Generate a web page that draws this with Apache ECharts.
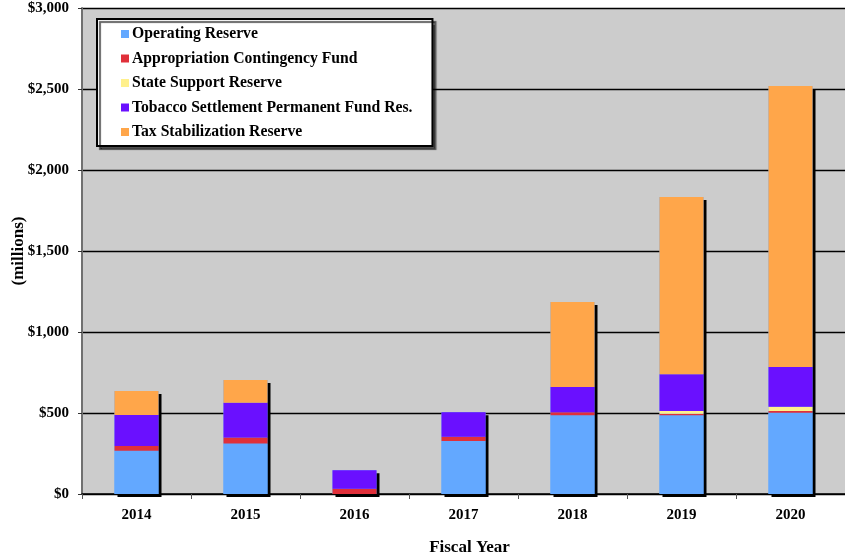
<!DOCTYPE html>
<html>
<head>
<meta charset="utf-8">
<script src="https://cdn.jsdelivr.net/npm/echarts@6/dist/echarts.min.js"></script>
<style>
  html, body { margin: 0; padding: 0; background: #fff; }
  #chart { width: 845px; height: 556px; }
</style>
</head>
<body>
<div id="chart"></div>
<script>
// Reserve balances by fiscal year, $ millions
const years = ['2014', '2015', '2016', '2017', '2018', '2019', '2020'];
const operatingReserve = [267, 311, 0, 327, 486, 486, 502];
const appropriationContingency = [29, 37, 33, 27, 18, 10, 10];
const stateSupportReserve = [0, 0, 0, 0, 0, 16, 27];
const tobaccoSettlement = [192, 216, 113, 150, 156, 227, 245];
const taxStabilization = [148, 140, 0, 0, 525, 1094, 1734];
const yTicks = [0, 500, 1000, 1500, 2000, 2500, 3000];

const seriesDefs = [
  { name: 'Operating Reserve', data: operatingReserve, color: '#63A8FF' },
  { name: 'Appropriation Contingency Fund', data: appropriationContingency, color: '#E0303A' },
  { name: 'State Support Reserve', data: stateSupportReserve, color: '#FFF08C' },
  { name: 'Tobacco Settlement Permanent Fund Res.', data: tobaccoSettlement, color: '#6A10FF' },
  { name: 'Tax Stabilization Reserve', data: taxStabilization, color: '#FFA64A' }
];

// Column totals, used only for the drop shadow behind each stack
const totals = years.map((_, i) => seriesDefs.reduce((s, d) => s + d.data[i], 0));

const font = '"Liberation Serif", "Times New Roman", serif';
const chart = echarts.init(document.getElementById('chart'), null, { renderer: 'canvas' });

const series = [{
  name: '__shadow',
  type: 'bar',
  stack: 'shadow',
  data: totals,
  barWidth: 44,
  barGap: '-100%',
  silent: true,
  z: 1,
  itemStyle: {
    color: '#63A8FF',
    shadowColor: '#000',
    shadowBlur: 0,
    shadowOffsetX: 3,
    shadowOffsetY: 3
  }
}].concat(seriesDefs.map(d => ({
  name: d.name,
  type: 'bar',
  stack: 'reserves',
  data: d.data,
  barWidth: 44,
  barGap: '-100%',
  z: 2,
  itemStyle: { color: d.color }
})));

chart.setOption({
  animation: false,
  backgroundColor: '#fff',
  grid: {
    left: 82, right: 0, top: 8, bottom: 62,
    outerBoundsMode: 'none',
    containLabel: false,
    show: true, backgroundColor: '#CCCCCC', borderWidth: 0
  },
  legend: {
    data: seriesDefs.map(d => d.name),
    orient: 'vertical',
    left: 97, top: 19,
    padding: [7, 20, 6, 24],
    itemGap: 8.5,
    itemWidth: 8, itemHeight: 8,
    icon: 'rect',
    backgroundColor: '#fff',
    borderColor: '#000',
    borderWidth: 2,
    shadowColor: 'rgba(0,0,0,0.6)',
    shadowBlur: 1,
    shadowOffsetX: 3,
    shadowOffsetY: 3,
    textStyle: { fontFamily: font, fontWeight: 'bold', fontSize: 15.7, color: '#000', padding: [0, 0, 0, -2] }
  },
  xAxis: {
    type: 'category',
    data: years,
    name: 'Fiscal Year',
    nameLocation: 'middle',
    nameGap: 45,
    nameMoveOverlap: false,
    nameTextStyle: { fontFamily: font, fontWeight: 'bold', fontSize: 17, color: '#000', padding: [0, 0, 0, 12] },
    axisLine: { lineStyle: { color: '#000', width: 1.5 } },
    axisTick: { show: true, alignWithLabel: false, length: 5, lineStyle: { color: '#555' } },
    axisLabel: { fontFamily: font, fontWeight: 'bold', fontSize: 15, color: '#000', margin: 14 }
  },
  yAxis: {
    type: 'value',
    min: 0, max: 3000, interval: 500,
    name: '(millions)',
    nameLocation: 'middle',
    nameGap: 55,
    nameRotate: 90,
    nameMoveOverlap: false,
    nameTextStyle: { fontFamily: font, fontWeight: 'bold', fontSize: 17, color: '#000' },
    axisLine: { show: true, lineStyle: { color: '#707070', width: 2 } },
    axisTick: { show: true, length: 4, lineStyle: { color: '#333' } },
    axisLabel: {
      fontFamily: font, fontWeight: 'bold', fontSize: 15, color: '#000', margin: 13,
      formatter: v => yTicks.includes(v) ? '$' + v.toLocaleString('en-US') : ''
    },
    splitLine: { show: true, lineStyle: { color: '#000', width: 1.3 } }
  },
  series: series
});
</script>
</body>
</html>
